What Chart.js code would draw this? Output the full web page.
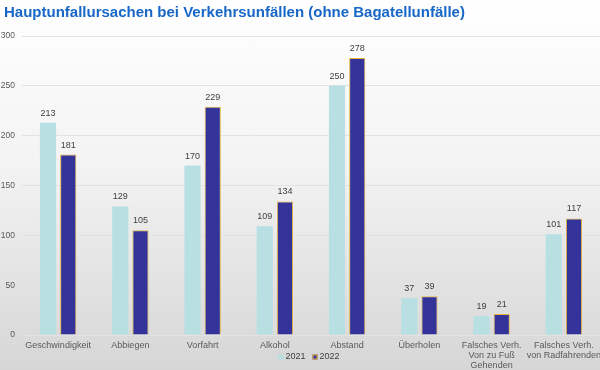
<!DOCTYPE html>
<html>
<head>
<meta charset="utf-8">
<script src="https://cdn.jsdelivr.net/npm/chart.js@4"></script>
<style>
  html, body { margin: 0; padding: 0; }
  body {
    width: 600px; height: 370px; overflow: hidden;
    background: linear-gradient(to bottom, #ffffff 0%, #f3f3f3 45%, #d6d6d6 100%);
  }
  #wrap { position: relative; width: 600px; height: 370px; }
  #title {
    position: absolute; left: 4px; top: 3px; margin: 0;
    font: bold 15px/18px "Liberation Sans", Arial, sans-serif;
    color: #1767c8; white-space: nowrap;
  }
  canvas { display: block; }
</style>
</head>
<body>
<div id="wrap">
  <div id="title">Hauptunfallursachen bei Verkehrsunfällen (ohne Bagatellunfälle)</div>
  <canvas id="c" width="600" height="370"></canvas>
</div>
<script>
const categories = [
  'Geschwindigkeit', 'Abbiegen', 'Vorfahrt', 'Alkohol', 'Abstand', 'Überholen',
  ['Falsches Verh.', 'Von zu Fuß', 'Gehenden'],
  ['Falsches Verh.', 'von Radfahrenden']
];
const values2021 = [213, 129, 170, 109, 250, 37, 19, 101];
const values2022 = [181, 105, 229, 134, 278, 39, 21, 117];
const seriesNames = ['2021', '2022'];

const FONT = '"Liberation Sans", Arial, sans-serif';

// value labels above each bar
const barLabels = {
  id: 'barLabels',
  afterDatasetsDraw(chart) {
    const ctx = chart.ctx;
    ctx.save();
    ctx.font = '9px ' + FONT;
    ctx.fillStyle = '#404040';
    ctx.textAlign = 'center';
    ctx.textBaseline = 'bottom';
    chart.data.datasets.forEach((ds, i) => {
      chart.getDatasetMeta(i).data.forEach((bar, j) => {
        ctx.fillText(ds.data[j], bar.x, bar.y - 5);
      });
    });
    ctx.restore();
  }
};

// legend drawn under the axis labels (overlapping the multi-line label area)
const bottomLegend = {
  id: 'bottomLegend',
  afterDraw(chart) {
    const ctx = chart.ctx;
    ctx.save();
    ctx.font = '9px ' + FONT;
    ctx.textBaseline = 'middle';
    const y = chart.chartArea.bottom + 22;
    const box = 5, gap = 2, sep = 7;
    const items = chart.data.datasets.map(ds => ({
      text: ds.label, fill: ds.backgroundColor, stroke: ds.borderColor
    }));
    let total = 0;
    items.forEach((it, i) => {
      total += box + gap + ctx.measureText(it.text).width + (i ? sep : 0);
    });
    let x = 309 - total / 2;
    items.forEach((it, i) => {
      if (i) x += sep;
      ctx.fillStyle = it.fill;
      ctx.fillRect(x, y - box / 2, box, box);
      if (it.stroke && it.stroke !== it.fill) {
        ctx.strokeStyle = it.stroke;
        ctx.lineWidth = 1;
        ctx.strokeRect(x + 0.5, y - box / 2 + 0.5, box - 1, box - 1);
      }
      x += box + gap;
      ctx.fillStyle = '#404040';
      ctx.fillText(it.text, x, y);
      x += ctx.measureText(it.text).width;
    });
    ctx.restore();
  }
};

new Chart(document.getElementById('c'), {
  type: 'bar',
  data: {
    labels: categories,
    datasets: [{
      label: seriesNames[0],
      data: values2021,
      backgroundColor: '#b8e0e3',
      borderColor: '#b8e0e3',
      borderWidth: 0
    }, {
      label: seriesNames[1],
      data: values2022,
      backgroundColor: '#333399',
      borderColor: '#e6b33a',
      borderWidth: 1
    }]
  },
  options: {
    responsive: false,
    animation: false,
    devicePixelRatio: 1,
    categoryPercentage: 0.56,
    barPercentage: 0.8,
    layout: { padding: { left: 0, right: 0, top: 36, bottom: 0 } },
    plugins: {
      legend: { display: false },
      tooltip: { enabled: false },
      title: { display: false }
    },
    scales: {
      x: {
        grid: { display: false, drawTicks: false },
        border: { display: false },
        ticks: {
          color: '#595959',
          font: { family: FONT, size: 9, lineHeight: 1.1 },
          maxRotation: 0,
          autoSkip: false,
          padding: 6
        },
        afterFit(scale) {
          scale.height = 35;
          scale.paddingLeft = 0;
          scale.paddingRight = 0;
        }
      },
      y: {
        min: 0,
        max: 300,
        border: { display: false },
        grid: { color: '#e2e2e2', drawTicks: false },
        ticks: {
          stepSize: 50,
          color: '#595959',
          font: { family: FONT, size: 8.5 },
          padding: 7
        },
        afterFit(scale) {
          scale.width = 22;
        }
      }
    }
  },
  plugins: [barLabels, bottomLegend]
});
</script>
</body>
</html>
